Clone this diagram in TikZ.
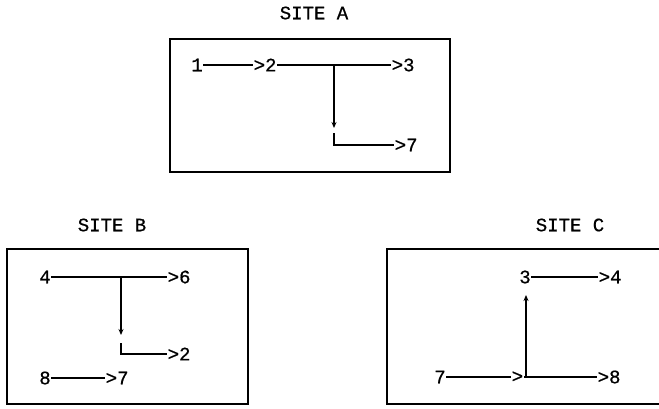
\documentclass[tikz,border=0pt]{standalone}
\usepackage{fontspec}
\newfontfamily\typer[FakeBold=0.7]{Liberation Mono}
\usetikzlibrary{arrows.meta}
\begin{document}
\begin{tikzpicture}[x=1pt,y=-1pt,
  lbl/.style={font=\typer\fontsize{19}{19}\selectfont, inner sep=0.5pt},
  tip/.style={lbl, anchor=west},
  ttl/.style={font=\typer\fontsize{19}{19}\selectfont, inner sep=0pt},
  site/.style={line width=1.2pt},
  wire/.style={line width=1.4pt},
  drop/.style={line width=1.1pt, -{Stealth[length=6pt,width=5pt]}}]
\useasboundingbox (0,0) rectangle (659,408);

% ---------- site A ----------
\node[ttl] (tA) at (314,13) {SITE A};
\draw[site] (170,39) rectangle (450,172);
\node[lbl] (a1) at (197,65) {1};
\node[tip] (a2) at (253,65) {>2};
\node[tip] (a3) at (391,65) {>3};
\node[tip] (a7) at (394,145) {>7};
\coordinate (ja) at (334,65);
\coordinate (ea) at (334,128);
\coordinate (ka) at (334,133);
\draw[wire] (a1) -- (a2);
\draw[wire] (a2) -- (a3);
\draw[drop] (ja) -- (ea);
\draw[wire] (ka) |- (a7);

% ---------- site B ----------
\node[ttl] (tB) at (112,225) {SITE B};
\draw[site] (7,249) rectangle (248,404);
\node[lbl] (b4) at (45,277) {4};
\node[tip] (b6) at (167,277) {>6};
\node[tip] (b2) at (167,354) {>2};
\node[lbl] (b8) at (45,378) {8};
\node[tip] (b7) at (105,378) {>7};
\coordinate (jb) at (121,277);
\coordinate (eb) at (121,335);
\coordinate (kb) at (121,343);
\draw[wire] (b4) -- (b6);
\draw[drop] (jb) -- (eb);
\draw[wire] (kb) |- (b2);
\draw[wire] (b8) -- (b7);

% ---------- site C (open to the right) ----------
\node[ttl] (tC) at (570,225) {SITE C};
\draw[site] (659,249) -| (387,404) -- (659,404);
\node[lbl] (c3) at (525,277) {3};
\node[tip] (c4) at (598,277) {>4};
\node[lbl] (c7) at (440,377) {7};
\node[tip] (cg) at (511,377) {>};
\node[tip] (c8) at (597,377) {>8};
\coordinate (jc) at (526,377);
\coordinate (ec) at (526,295);
\draw[wire] (c3) -- (c4);
\draw[wire] (c7) -- (cg);
\draw[wire] (cg) -- (c8);
\draw[drop] (jc) -- (ec);
\end{tikzpicture}
\end{document}
